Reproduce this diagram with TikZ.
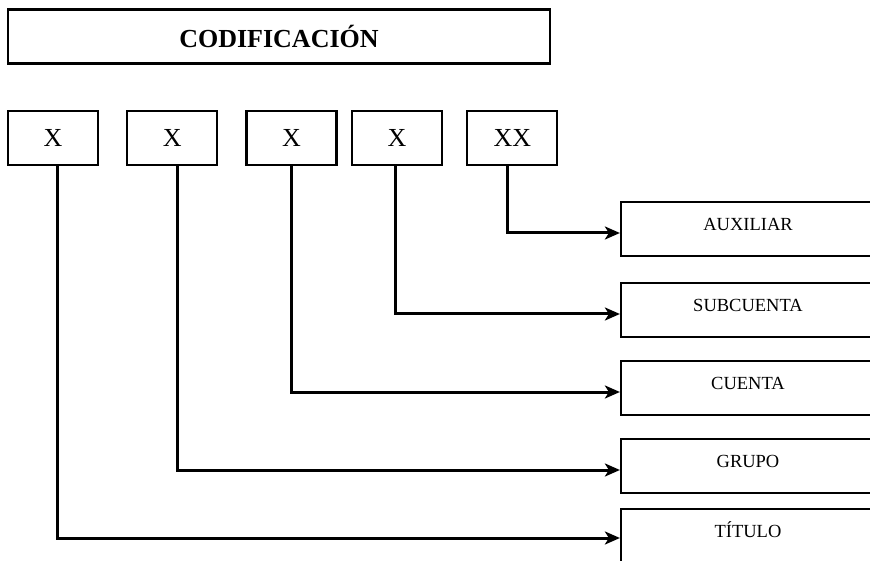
\documentclass[tikz,border=0pt]{standalone}
\usepackage{fontspec}
\setmainfont{Liberation Serif}
\usetikzlibrary{positioning,arrows.meta}

\begin{document}
\begin{tikzpicture}[x=1pt,y=-1pt,
    caja/.style={draw,line width=2.2pt,minimum width=90pt,minimum height=54pt,inner sep=0pt,font=\fontsize{26}{28}\selectfont},
    nivel/.style={draw,line width=2.2pt,minimum width=254pt,minimum height=54pt,inner sep=0pt,text height=14pt,text depth=11pt,font=\fontsize{18.5}{20}\selectfont},
    flecha/.style={line width=3pt,-{Stealth[length=15pt,width=13pt,inset=4pt]}}]
    \useasboundingbox (0,0) rectangle (870,561);
    \clip (0,0) rectangle (870,561);
    \node [draw,line width=2.2pt,minimum width=542pt,minimum height=54pt,font=\bfseries\fontsize{26}{28}\selectfont] (T) at (279,36.5) {CODIFICACIÓN};
    \node [caja] (D1) at (53,138) {X};
    \node [caja,right=27pt of D1] (D2) {X};
    \node [caja,right=27pt of D2] (D3) {X};
    \node [caja,right=13.5pt of D3] (D4) {X};
    \node [caja,right=23pt of D4] (D5) {XX};
    \node [nivel] (AUX) at (748,229) {AUXILIAR};
    \node [nivel] (SUB) at (748,310) {SUBCUENTA};
    \node [nivel] (CTA) at (748,388) {CUENTA};
    \node [nivel] (GRP) at (748,466) {GRUPO};
    \node [nivel] (TIT) at (748,536) {TÍTULO};
    \draw [flecha] ([xshift=-5pt]D5.south) |- ([yshift=-4pt]AUX.west);
    \draw [flecha] ([xshift=-2pt]D4.south) |- ([yshift=-4pt]SUB.west);
    \draw [flecha] (D3.south) |- ([yshift=-4pt]CTA.west);
    \draw [flecha] ([xshift=5pt]D2.south) |- ([yshift=-4pt]GRP.west);
    \draw [flecha] ([xshift=4pt]D1.south) |- ([yshift=-2pt]TIT.west);
\end{tikzpicture}
\end{document}
